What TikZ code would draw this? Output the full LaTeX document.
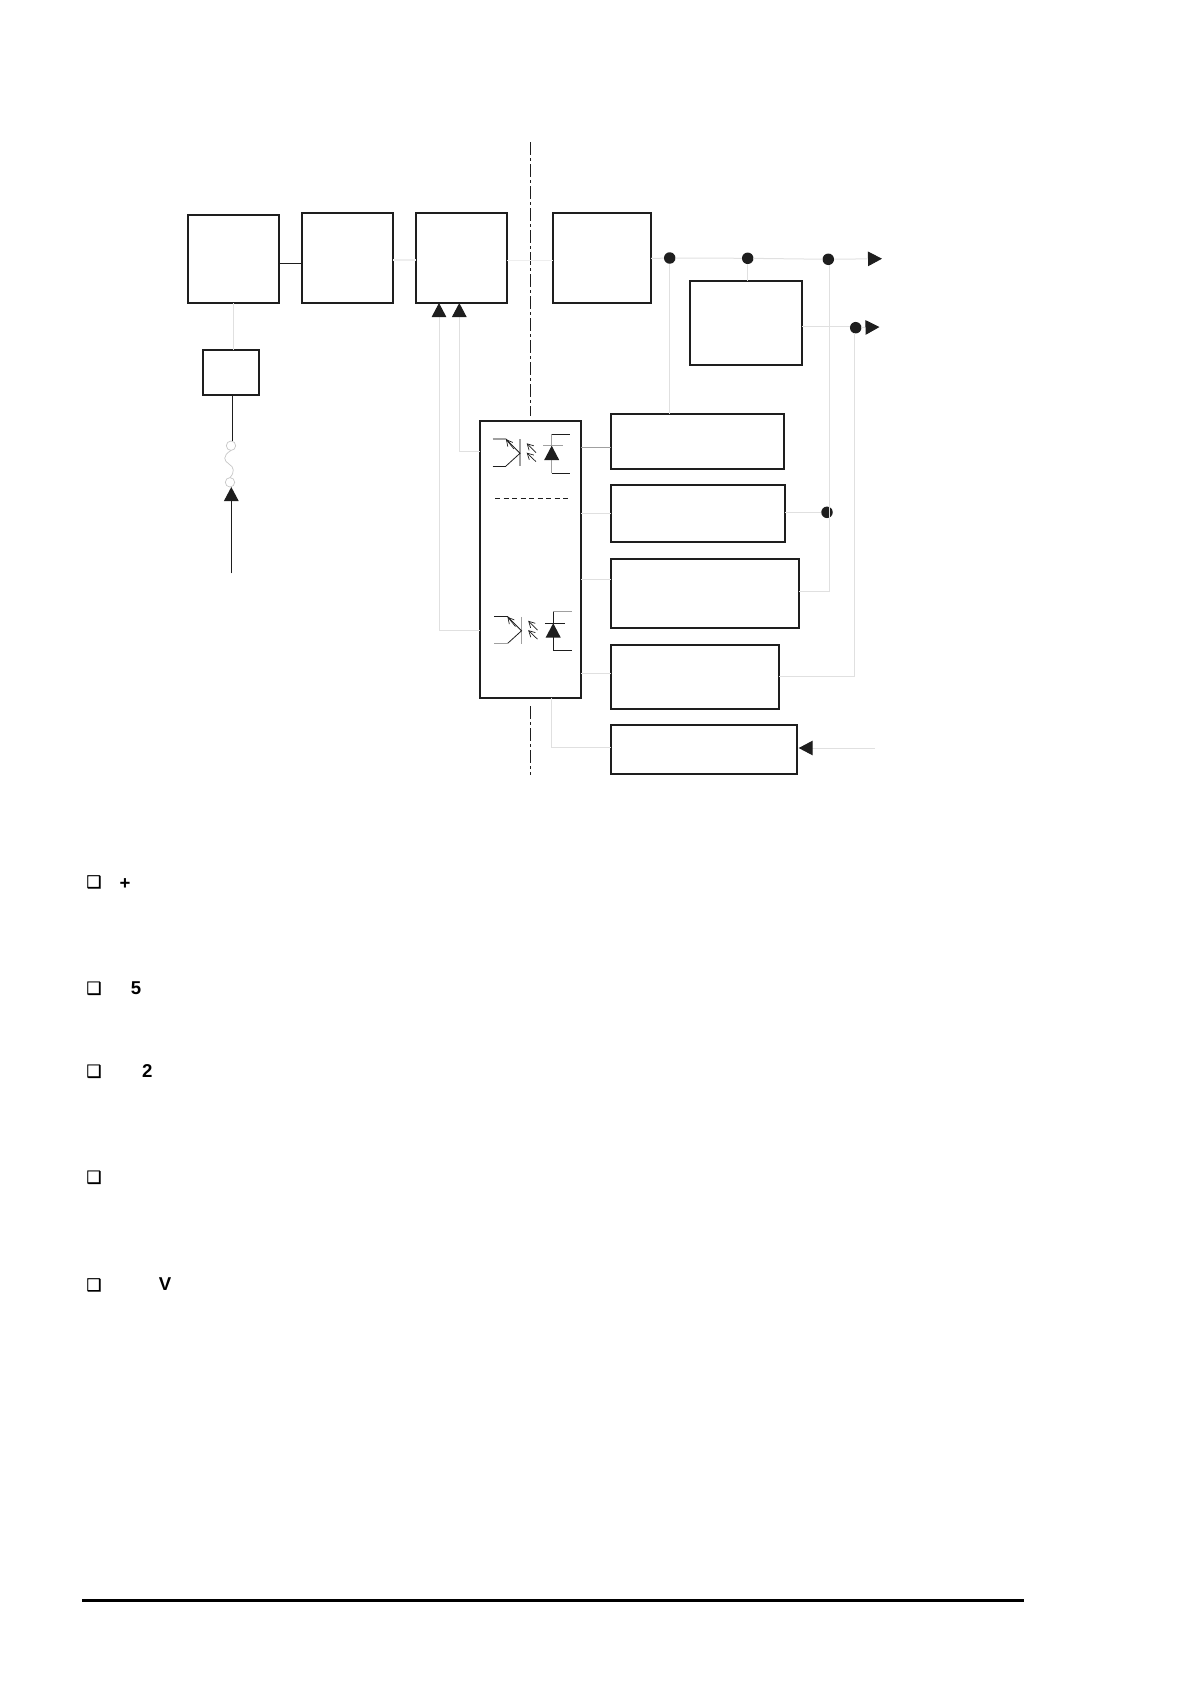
\documentclass[tikz,border=0pt]{standalone}
\usepackage{fontspec}
\setmainfont{Liberation Sans}
\newfontfamily\symfont[AutoFakeBold=1.2]{DejaVu Sans}
\usetikzlibrary{arrows.meta,calc}
\definecolor{ink}{HTML}{1E1E1E}
\definecolor{faint}{HTML}{E0E0E0}
\definecolor{vfaint}{HTML}{EEEEEE}
\definecolor{midg}{HTML}{A0A0A0}
\tikzset{
  box/.style={draw=ink,line width=1.7pt,fill=white,inner sep=0pt,outer sep=0pt},
  dotnode/.style={circle,fill=ink,inner sep=0pt,outer sep=0pt,minimum size=11.5pt},
  ringnode/.style={circle,draw=midg!60,line width=0.7pt,inner sep=0pt,outer sep=0pt,minimum size=9.4pt},
  wire/.style={line width=1pt,draw=faint},
  wirefaint/.style={line width=1.4pt,draw=vfaint},
  wiredark/.style={line width=1.1pt,draw=ink},
  wiremid/.style={line width=1pt,draw=midg},
  headtip/.style={-{Triangle[length=14pt,width=14.5pt,color=ink,fill=ink]}},
  bulletmark/.style={font=\symfont\bfseries\fontsize{17}{17}\selectfont,inner sep=0pt,text=black},
  lead/.style={font=\bfseries\fontsize{18.6}{18.6}\selectfont,inner sep=0pt,text=black},
  thinsym/.style={line width=0.8pt,draw=ink},
  graysym/.style={line width=1.2pt,draw=midg},
  openhead/.style={-{Straight Barb[length=6pt,width=6.5pt,color=ink]},line width=0.7pt,draw=ink},
}
\newcommand{\blockat}[5]{\node[box,minimum width=#4pt-#2pt,minimum height=#5pt-#3pt,anchor=north west] (#1) at (#2,#3) {};}
% #3 = style of upper lead, vertical and bar; #4 = style of top hook and lower lead
\newcommand{\optosym}[4]{%
  \begin{scope}[shift={(#1,#2)}]
    \draw[graysym] (520,439.3) -- (520,466);
    \draw[thinsym] (506,439) -- (520,453.3) -- (506,466);
    \draw[#3] (492.7,439) -- (506,439);
    \draw[#4] (492.7,466) -- (506,466);
    \draw[openhead] (514,449) -- (506,439.3);
    \draw[openhead] (536,452.7) -- (526.7,443.3);
    \draw[openhead] (536,461.7) -- (526.7,452.7);
    \draw[#3] (551.7,434.3) -- (551.7,473.3);
    \draw[#4] (551.7,434.3) -- (570,434.3);
    \draw[thinsym] (551.7,473.3) -- (570,473.3);
    \draw[#3] (543.3,445.7) -- (563.3,445.7);
    \fill[ink] (551.7,445.7) -- (559.2,460) -- (544.2,460) -- cycle;
  \end{scope}}
\begin{document}
\begin{tikzpicture}[x=1pt,y=-1pt]
\useasboundingbox (0,0) rectangle (1190,1684);
% isolation line
\coordinate (isoTop) at (530.3,142);
\coordinate (isoUp) at (530.3,416);
\coordinate (isoDown) at (530.3,706);
\coordinate (isoEnd) at (530.3,775);
\draw[line width=1pt,draw=ink,dash pattern=on 13pt off 3pt on 3pt off 3pt] (isoTop) -- (isoUp);
\draw[line width=1pt,draw=ink,dash pattern=on 13pt off 3pt on 3pt off 3pt] (isoDown) -- (isoEnd);
% blocks
\blockat{A}{187.7}{215}{279.3}{303}
\blockat{B}{301.7}{213}{393.3}{303}
\blockat{C}{415.7}{213}{507.3}{303}
\blockat{D}{552.7}{213}{651}{303}
\blockat{E}{690}{280.7}{802.3}{365}
\blockat{S}{202.7}{349.7}{259.3}{395}
\blockat{Opto}{480}{420.7}{581}{697.7}
\blockat{Ra}{611.3}{414}{784}{469}
\blockat{Rb}{611.3}{485}{785}{542}
\blockat{Rc}{611.3}{559}{799}{628}
\blockat{Rd}{611.3}{644.7}{779}{709}
\blockat{Re}{611.3}{724.7}{797.3}{774}
% dots and rings
\node[dotnode] (d1) at (669.7,258) {};
\node[dotnode] (d2) at (747.7,258.3) {};
\node[dotnode] (d3) at (828.3,259.3) {};
\node[dotnode] (d4) at (855.7,327.7) {};
\node[dotnode] (d5) at (827,512.3) {};
\node[ringnode] (r1) at (231,445.7) {};
\node[ringnode] (r2) at (230,482.3) {};
% free ends and routing levels
\coordinate (lvAB) at (290,263.3);
\coordinate (lvBC) at (400,260);
\coordinate (lvCD) at (530,260.3);
\coordinate (lvMain) at (700,258.5);
\coordinate (outA) at (882,258.7);
\coordinate (lvE) at (820,326.5);
\coordinate (outB) at (879.5,327);
\coordinate (xAS) at (233.3,330);
\coordinate (xSR) at (232.3,420);
\coordinate (inF) at (231.3,573.3);
\coordinate (xC1) at (439,400);
\coordinate (xC2) at (459.3,400);
\coordinate (lv1) at (500,630.3);
\coordinate (lv2) at (470,451.3);
\coordinate (lvOa) at (600,447.3);
\coordinate (lvOb) at (600,513.3);
\coordinate (lvOc) at (600,579.7);
\coordinate (lvOd) at (600,673.3);
\coordinate (xOe) at (551.7,710);
\coordinate (lvRe) at (600,747.7);
\coordinate (lvRc) at (810,591.5);
\coordinate (lvRd) at (810,676);
\coordinate (xV1) at (829.3,400);
\coordinate (xV2) at (854.3,400);
\coordinate (inRe) at (874.7,748);
% connectors
\draw[wiredark] (A.east |- lvAB) -- (B.west |- lvAB);
\draw[wirefaint] (B.east |- lvBC) -- (C.west |- lvBC);
\draw[wirefaint] (C.east |- lvCD) -- (D.west |- lvCD);
\draw[wire] (xAS |- A.south) -- (xAS |- S.north);
\draw[wiredark] (xSR |- S.south) -- (xSR |- r1.north);
\draw[midg!60,line width=0.7pt] (r1.south) .. controls (222,456) and (224,461) .. (229,464) .. controls (234,467) and (235,472) .. (r2.north);
\draw[wiredark,headtip] (inF) -- (inF |- r2.south);
\draw[wire] (D.east |- lvMain) -- (d1);
\draw[wire] (d1) -- (d2);
\draw[wire] (d2) -- (d3);
\draw[wire,headtip] (d3) -- (outA);
\draw[wire] (d2) -- (d2 |- E.north);
\draw[wire] (E.east |- lvE) -- (d4.west |- lvE);
\draw[wire,headtip] (d4) -- (outB);
\draw[wire] (d1) -- (d1 |- Ra.north);
\draw[wire] (xV1 |- d3.south) -- (xV1 |- lvRc) -- (Rc.east |- lvRc);
\draw[wire] (xV2 |- d4.south) -- (xV2 |- lvRd) -- (Rd.east |- lvRd);
\draw[wire] (Rb.east |- d5) -- (d5);
\draw[wire,headtip] (Opto.west |- lv1) -- (xC1 |- lv1) -- (xC1 |- C.south);
\draw[wire,headtip] (Opto.west |- lv2) -- (xC2 |- lv2) -- (xC2 |- C.south);
\draw[wiremid] (Opto.east |- lvOa) -- (Ra.west |- lvOa);
\draw[wire] (Opto.east |- lvOb) -- (Rb.west |- lvOb);
\draw[wire] (Opto.east |- lvOc) -- (Rc.west |- lvOc);
\draw[wire] (Opto.east |- lvOd) -- (Rd.west |- lvOd);
\draw[wire] (xOe |- Opto.south) -- (xOe |- lvRe) -- (Re.west |- lvRe);
\draw[wire,headtip,shorten >=1.4pt] (inRe) -- (Re.east |- inRe);
% optocoupler symbols
\optosym{0}{0}{graysym}{thinsym}
\optosym{1.5}{177.5}{thinsym}{graysym}
\draw[line width=1pt,draw=ink,dash pattern=on 5pt off 3.5pt] (495,498.3) -- (568,498.3);
% list markers and characters
\node[bulletmark] (m1) at (94,882) {❑};
\node[bulletmark] (m2) at (94,988.3) {❑};
\node[bulletmark] (m3) at (94,1071.3) {❑};
\node[bulletmark] (m4) at (94,1177.3) {❑};
\node[bulletmark] (m5) at (94,1285) {❑};
\node[lead] (t1) at (125,884) {+};
\node[lead] (t2) at (136,988.3) {5};
\node[lead] (t3) at (147.3,1071) {2};
\node[lead] (t4) at (165,1284.5) {V};
% footer rule
\coordinate (ruleL) at (82,1600.7);
\coordinate (ruleR) at (1024.3,1600.7);
\draw[line width=3.2pt,draw=black] (ruleL) -- (ruleR);
\end{tikzpicture}
\end{document}
